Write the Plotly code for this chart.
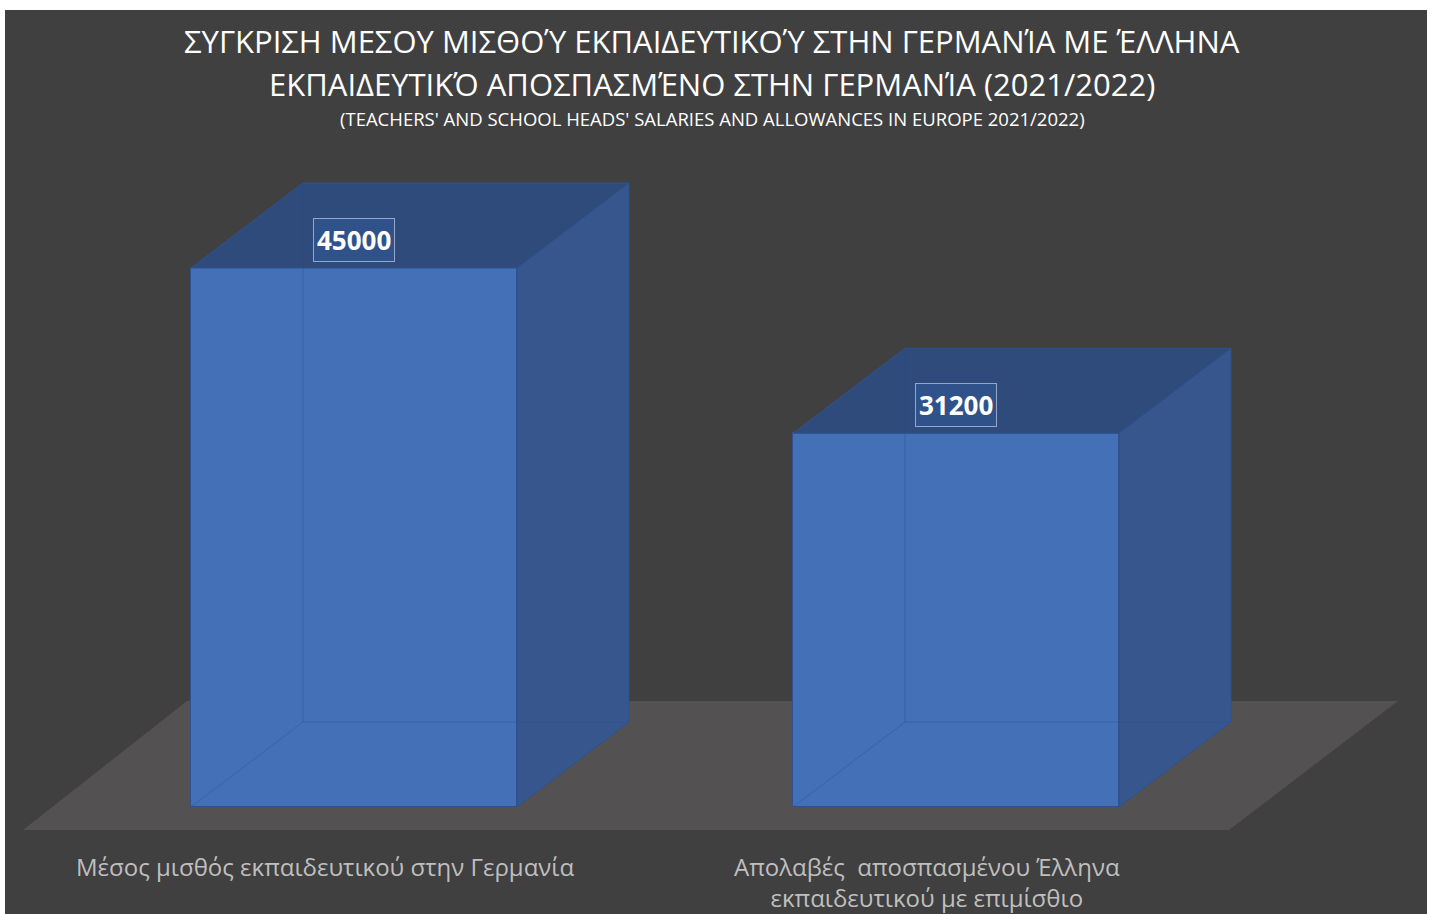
import plotly.graph_objects as go

# ---- data ----
categories = [
    "Μέσος μισθός εκπαιδευτικού στην Γερμανία",
    "Απολαβές  αποσπασμένου Έλληνα<br>εκπαιδευτικού με επιμίσθιο",
]
values = [45000, 31200]
title_line1 = "ΣΥΓΚΡΙΣΗ ΜΕΣΟΥ ΜΙΣΘΟΎ ΕΚΠΑΙΔΕΥΤΙΚΟΎ ΣΤΗΝ ΓΕΡΜΑΝΊΑ ΜΕ ΈΛΛΗΝΑ"
title_line2 = "ΕΚΠΑΙΔΕΥΤΙΚΌ ΑΠΟΣΠΑΣΜΈΝΟ ΣΤΗΝ ΓΕΡΜΑΝΊΑ (2021/2022)"
subtitle = "(TEACHERS' AND SCHOOL HEADS' SALARIES AND ALLOWANCES IN EUROPE 2021/2022)"

# ---- style ----
W, H = 1432, 914
BG = "#404040"
FLOOR = "#535151"
FRONT = "#4370B7"
TOP = "#2E4B7C"
SIDE = "#36568D"
EDGE = "#2F528F"
FONT = "Open Sans"

X_RANGE = [-0.588, 1.7907]
Y_RANGE = [-8933, 67375]
BW = 0.5415           # bar width (x units)
DX = 0.186            # depth offset x (x units)
DY = 7096             # depth offset y (value units)

positions = list(range(len(values)))

fig = go.Figure()

# front faces (bars)
fig.add_trace(go.Bar(
    x=positions, y=values, width=BW,
    marker=dict(color=FRONT, line=dict(color=EDGE, width=1)),
    hoverinfo="skip", showlegend=False,
))

for p, v in zip(positions, values):
    xl, xr = p - BW / 2, p + BW / 2
    # side face
    fig.add_trace(go.Scatter(
        x=[xr, xr + DX, xr + DX, xr, xr], y=[0, DY, v + DY, v, 0],
        mode="lines", fill="toself", fillcolor=SIDE,
        line=dict(color=EDGE, width=1), hoverinfo="skip", showlegend=False))
    # top face
    fig.add_trace(go.Scatter(
        x=[xl, xr, xr + DX, xl + DX, xl], y=[v, v, v + DY, v + DY, v],
        mode="lines", fill="toself", fillcolor=TOP,
        line=dict(color=EDGE, width=1), hoverinfo="skip", showlegend=False))
    # faint hidden back edges (semi-transparent look)
    fig.add_trace(go.Scatter(
        x=[xl + DX, xl + DX, None, xl, xl + DX, xr + DX],
        y=[v + DY, DY, None, 0, DY, DY],
        mode="lines", line=dict(color="rgba(40,75,140,0.35)", width=1),
        hoverinfo="skip", showlegend=False))
    # value label
    fig.add_annotation(
        x=p, y=v, xref="x", yref="y", yshift=28, showarrow=False,
        text=f"<b>{v}</b>", font=dict(family=FONT, size=26, color="white"),
        bgcolor="#30528A", bordercolor="rgba(190,205,230,0.7)", borderwidth=1,
        borderpad=3)

# category labels
for p, c in zip(positions, categories):
    fig.add_annotation(
        x=p, y=0, xref="x", yref="y", xshift=-29, yshift=-41,
        yanchor="top", showarrow=False, text=c, align="center",
        font=dict(family=FONT, size=24, color="#BFBFBF"))

# floor (below the bars)
floor_front, floor_back = -1920, 8850
fig.add_shape(
    type="path", xref="x", yref="y", layer="below",
    path=(f"M {-0.5498},{floor_front} L {1.4535},{floor_front} "
          f"L {1.7342},{floor_back} L {-0.2774},{floor_back} Z"),
    fillcolor=FLOOR, line=dict(width=0))

# chart background
fig.add_shape(
    type="rect", xref="paper", yref="paper", layer="below",
    x0=5 / W, x1=1427 / W, y0=0, y1=1 - 10 / H,
    fillcolor=BG, line=dict(width=0))

# titles
for text, ypx, size in [(title_line1, 41, 31), (title_line2, 84, 31), (subtitle, 118, 18.5)]:
    fig.add_annotation(
        x=712 / W, y=1 - ypx / H, xref="paper", yref="paper",
        xanchor="center", yanchor="middle", showarrow=False, text=text,
        font=dict(family=FONT, size=size, color="white"))

fig.update_layout(
    width=W, height=H, margin=dict(l=0, r=0, t=0, b=0),
    paper_bgcolor="white", plot_bgcolor="rgba(0,0,0,0)",
    xaxis=dict(range=X_RANGE, visible=False, fixedrange=True),
    yaxis=dict(range=Y_RANGE, visible=False, fixedrange=True),
    showlegend=False, bargap=0,
)

fig.write_html("out.html", config={"displayModeBar": False},
               post_script="document.body.style.margin='0';document.body.style.overflow='hidden';")
